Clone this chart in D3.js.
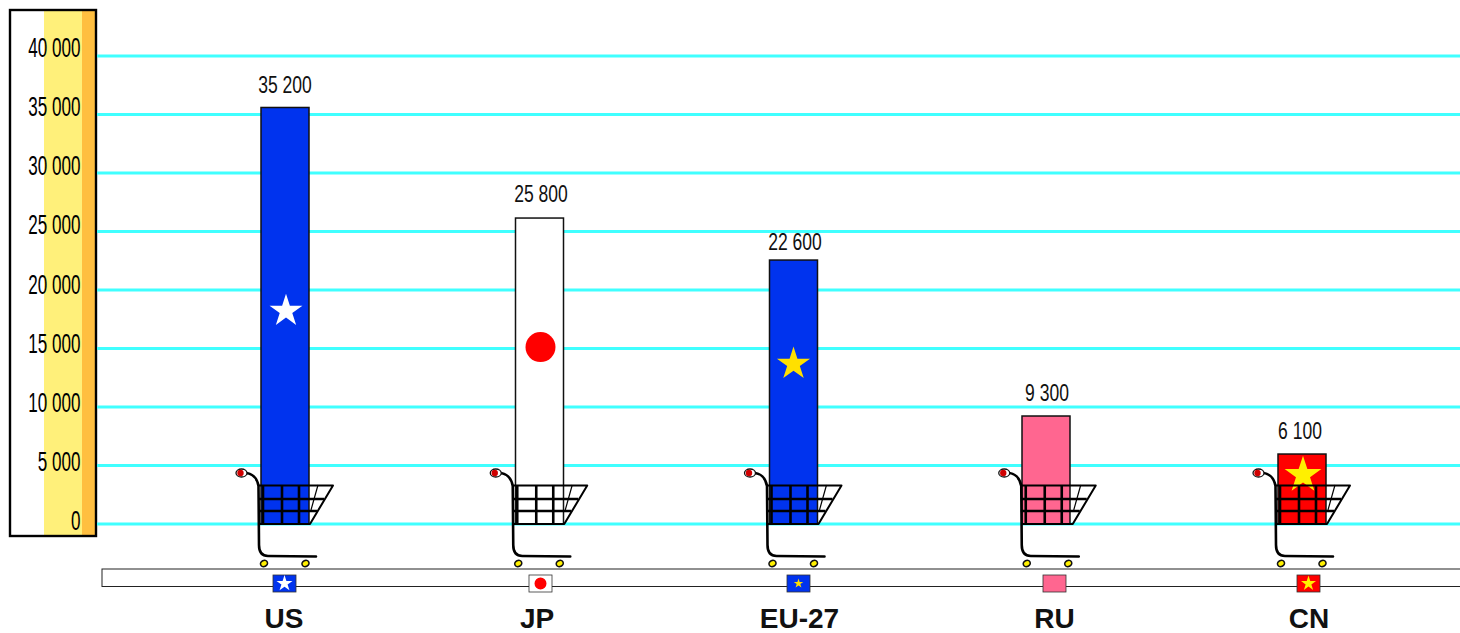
<!DOCTYPE html>
<html><head><meta charset="utf-8">
<style>html,body{margin:0;padding:0;background:#fff;overflow:hidden}svg{display:block}text{font-family:"Liberation Sans",Arial,sans-serif}</style>
<script src="https://cdn.jsdelivr.net/npm/d3@7"></script></head><body>
<svg id="c" width="1460" height="633"></svg>
<script>
const categories = ["US","JP","EU-27","RU","CN"];
const barValues = [35600,26150,22560,9230,5980];
const valueLabels = ["35 200","25 800","22 600","9 300","6 100"];
const barColors = ["#0033EE","#FFFFFF","#0033EE","#FF6690","#FF0000"];
const emblemKinds = ["star","circle","star",null,"star"];
const emblemColors = ["#FFFFFF","#FF0000","#FFE000",null,"#FFF000"];
const emblemValues = [18290,15210,13760,null,4270];
const emblemSizes = [335,707,340,0,420];
const flagEmblemSizes = [80,113,28,0,70];
const yTicks = [0,5000,10000,15000,20000,25000,30000,35000,40000];
const tickLabels = ["0","5 000","10 000","15 000","20 000","25 000","30 000","35 000","40 000"];
const labelGaps = [14,16,10,15,15];

const svg = d3.select("#c");
const y = d3.scaleLinear().domain([0,40000]).range([524,56]);
const tickY = d3.scaleLinear().domain([0,40000]).range([530,57]);
const barX = d3.scaleOrdinal().domain(categories).range([285,539.5,793.5,1046,1302]);
const labelX = d3.scaleOrdinal().domain(categories).range([285,541,795,1047,1300]);
const cartX = d3.scalePoint().domain(categories).range([0,1017]);
const flagX = d3.scaleOrdinal().domain(categories).range([284.5,540.5,798.5,1054.5,1308.5]);
const catX = d3.scaleOrdinal().domain(categories).range([284,537,799.5,1054.5,1309]);
const barW = 48;

// axis panel
svg.append("rect").attr("x",44).attr("y",10).attr("width",38).attr("height",526).attr("fill","#FFF07A");
svg.append("rect").attr("x",82).attr("y",10).attr("width",14).attr("height",526).attr("fill","#FFBF40");
svg.append("rect").attr("x",10).attr("y",10).attr("width",86).attr("height",526).attr("fill","none").attr("stroke","#000").attr("stroke-width",2.4);

// grid
svg.append("g").selectAll("line").data(yTicks).join("line")
  .attr("x1",97).attr("x2",1460).attr("y1",d=>y(d)).attr("y2",d=>y(d))
  .attr("stroke","#40FFFF").attr("stroke-width",3);

// tick labels
svg.append("g").selectAll("text").data(yTicks).join("text")
  .attr("transform",d=>`translate(80.5,${tickY(d)}) scale(0.61,1)`)
  .attr("text-anchor","end").attr("font-size",28).attr("fill","#000")
  .text((d,i)=>tickLabels[i]);

// bars
svg.append("g").selectAll("rect").data(categories).join("rect")
  .attr("x",d=>barX(d)-barW/2).attr("width",barW)
  .attr("y",(d,i)=>y(barValues[i])).attr("height",(d,i)=>y(0)-y(barValues[i]))
  .attr("fill",(d,i)=>barColors[i]).attr("stroke","#111").attr("stroke-width",1.5);

// value labels
svg.append("g").selectAll("text").data(categories).join("text")
  .attr("transform",(d,i)=>`translate(${labelX(d)},${y(barValues[i])-labelGaps[i]}) scale(0.73,1)`)
  .attr("text-anchor","middle").attr("font-size",24).attr("fill","#111")
  .text((d,i)=>valueLabels[i]);

// emblems
function sym(kind,size){return d3.symbol().type(kind==="star"?d3.symbolStar:d3.symbolCircle).size(size)();}
svg.append("g").selectAll("path").data(categories.filter((d,i)=>emblemKinds[i])).join("path")
  .attr("d",d=>{const i=categories.indexOf(d);return sym(emblemKinds[i],emblemSizes[i]);})
  .attr("transform",d=>{const i=categories.indexOf(d);return `translate(${barX(d)+(i===2?0:1)},${y(emblemValues[i])+1})`;})
  .attr("fill",d=>emblemColors[categories.indexOf(d)]);

// shopping carts (decoration, drawn for each category)
const cart = svg.append("g").selectAll("g").data(categories).join("g").attr("transform",d=>`translate(${cartX(d)},0)`);
cart.append("path").attr("fill","none").attr("stroke","#000").attr("stroke-width",2.6).attr("stroke-linecap","round").attr("stroke-linejoin","round")
  .attr("d","M245,473 C252,473 257,478 258.5,486 L259,545 Q259,556 268,556 L316,556.5");
cart.append("path").attr("fill","none").attr("stroke","#000").attr("stroke-width",2).attr("stroke-linejoin","round")
  .attr("d","M258,485.5 L333,485.5 L310,524 L259,524");
cart.append("path").attr("fill","none").attr("stroke","#000").attr("stroke-width",2.6)
  .attr("d","M258,499 L324,499 M258,511 L317,511 M263,485 V524 M282,485 V524 M299,485 V524");
cart.append("path").attr("fill","none").attr("stroke","#000").attr("stroke-width",1.2)
  .attr("d","M318,485 L311,510");
cart.append("ellipse").attr("cx",241.5).attr("cy",473).attr("rx",5.5).attr("ry",4).attr("fill","#fff").attr("stroke","#111").attr("stroke-width",1.3);
cart.append("circle").attr("cx",240.5).attr("cy",473).attr("r",3.2).attr("fill","#D00000");
[264,305.5].forEach(cx=>{
  cart.append("ellipse").attr("cx",cx).attr("cy",563.5).attr("rx",3.6).attr("ry",3).attr("fill","#FFF000").attr("stroke","#111").attr("stroke-width",1.6)
    .attr("transform",`rotate(-25,${cx},563.5)`);
});

// base strip
svg.append("rect").attr("x",102).attr("y",569).attr("width",1370).attr("height",17.5).attr("fill","#fff").attr("stroke","#222").attr("stroke-width",1);

// flags
svg.append("g").selectAll("rect").data(categories).join("rect")
  .attr("x",d=>flagX(d)-11.5).attr("y",575).attr("width",23).attr("height",17)
  .attr("fill",(d,i)=>barColors[i]).attr("stroke","#333").attr("stroke-width",0.8);
svg.append("g").selectAll("path").data(categories.filter((d,i)=>emblemKinds[i])).join("path")
  .attr("d",d=>{const i=categories.indexOf(d);return sym(emblemKinds[i],flagEmblemSizes[i]);})
  .attr("transform",d=>`translate(${flagX(d)},583.5)`)
  .attr("fill",d=>emblemColors[categories.indexOf(d)]);

// category labels
svg.append("g").selectAll("text").data(categories).join("text")
  .attr("x",d=>catX(d)).attr("y",628).attr("text-anchor","middle")
  .attr("font-size",28).attr("font-weight","bold").attr("fill","#111").text(d=>d);
</script></body></html>
